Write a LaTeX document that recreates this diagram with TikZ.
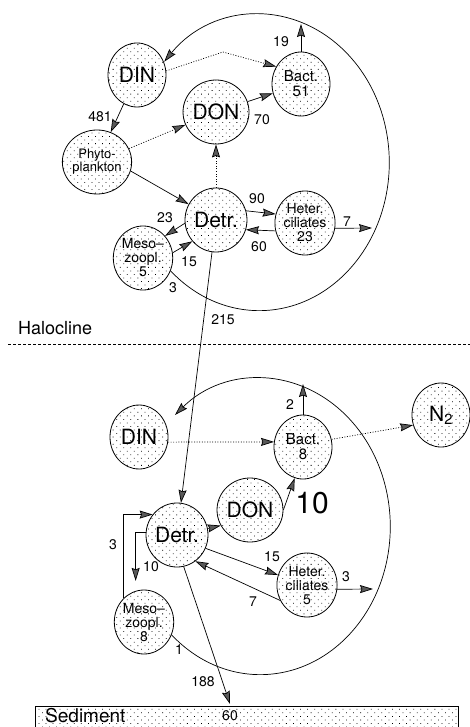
\documentclass[tikz,border=0pt]{standalone}
\usepackage{fontspec}
\setmainfont{TeX Gyre Heros}
\usepackage{tikz}
\usetikzlibrary{arrows.meta,patterns.meta,shapes.geometric}
\newcommand{\fs}[1]{\fontsize{#1}{#1}\selectfont}
\tikzset{
  pool/.style={ellipse, draw, line width=0.8pt, minimum width=58pt, minimum height=64pt,
    inner sep=0pt, align=center, font=\fs{14},
    pattern={Dots[distance=5pt, angle=45, radius=0.55pt]}},
  flow/.style={draw, line width=0.7pt,
    -{Stealth[length=13pt, width=8pt, inset=1.5pt, fill=black!65]}},
  dotflow/.style={flow, dash pattern=on 1pt off 1.6pt},
  num/.style={font=\fs{14}, inner sep=0pt},
}
\begin{document}
\begin{tikzpicture}[x=1pt,y=-1pt]
\useasboundingbox (0,0) rectangle (470,727);
 \node[pool, font=\fs{21}] (din1) at (137,75) {DIN};
 \node[pool, font=\fs{15}] (bact1) at (301,84) {Bact.\\51};
 \node[pool, font=\fs{21}] (don1) at (216,112) {DON};
 \node[pool, font=\fs{13}] (phyto) at (97,162) {Phyto-\\plankton};
 \node[pool, font=\fs{21}] (detr1) at (216,220) {Detr.};
 \node[pool] (het1) at (305,223) {Heter.\\ciliates\\23};
 \node[pool] (mz1) at (143,258) {Meso--\\zoopl.\\5};
 \coordinate (top19) at (301,24);
 \coordinate (out7) at (372,228);
 \coordinate (bend1) at (223,52);
  \draw[flow] (mz1.-25) arc[start angle=133, end angle=-137, x radius=130, y radius=148];
  \draw[dotflow] (din1.8) -- (bend1) -- (bact1.145);
  \draw[flow] (din1) -- (phyto);
  \draw[dotflow] (phyto) -- (don1);
  \draw[flow] (phyto.-15) -- (detr1.150);
  \draw[flow] (don1) -- (bact1);
  \draw[flow] (bact1.north) -- (top19);
  \draw[dotflow] (detr1) -- (don1);
  \draw[flow] (detr1.17) -- (het1.163);
  \draw[flow] (het1.195) -- (detr1.-18);
  \draw[flow] (het1.-10) -- (out7);
  \draw[flow] (detr1.186) -- (mz1.45);
  \draw[flow] (mz1.10) -- (detr1.222);
 \node[num] at (281,42) {19};
 \node[num] at (100,117) {481};
 \node[num] at (262,120) {70};
 \node[num] at (257,199) {90};
 \node[num] at (259,247) {60};
 \node[num] at (347,222) {7};
 \node[num] at (165,218) {23};
 \node[num] at (189,262) {15};
 \node[num] at (173,288) {3};
 \node[num] at (223,320) {215};
 \node[font=\fs{18}, anchor=west, inner sep=0pt] (halo) at (18,328) {Halocline};
 \coordinate (hl) at (8,344);
 \coordinate (hr) at (470,344);
  \draw[line width=0.7pt, dash pattern=on 3pt off 2pt] (hl) -- (hr);
 \node[pool, font=\fs{21}] (din2) at (139,437) {DIN};
 \node[pool, font=\fs{15}] (bact2) at (303,447) {Bact.\\8};
 \node[pool, font=\fs{21}] (ntwo) at (441,415) {N\textsubscript{2}};
 \node[pool, font=\fs{21}] (don2) at (250,510) {DON};
 \node[pool, font=\fs{21}] (detr2) at (177,535) {Detr.};
 \node[pool] (het2) at (307,585) {Heter.\\ciliates\\5};
 \node[pool] (mz2) at (144,622) {Meso--\\zoopl.\\8};
 \node[draw, line width=0.8pt, minimum width=423pt, minimum height=24pt, anchor=north west,
   pattern={Dots[distance=5pt, angle=45, radius=0.55pt]}] (sed) at (35,706) {};
 \coordinate (top2) at (303,384);
 \coordinate (out3) at (373,589);
 \coordinate (sedin) at (230,704);
  \draw[flow] (mz2.-25) arc[start angle=133, end angle=-131, x radius=130, y radius=148];
  \draw[flow] (detr1) -- (detr2);
  \draw[dotflow] (din2.-10) -- (bact2.170);
  \draw[dotflow] (bact2.15) -- (ntwo.200);
  \draw[flow] (bact2.north) -- (top2);
  \draw[flow] (don2.east) -- (bact2.-105);
  \draw[flow] (detr2.12) -- (don2.208);
  \draw[flow] (detr2.-25) -- (het2.161);
  \draw[flow] (het2.210) -- (detr2.-55);
  \draw[flow] (het2.-8) -- (out3);
  \draw[flow] (mz2.130) |- (detr2.140);
  \draw[flow, shorten >=10pt] (detr2.175) -| (mz2.105);
  \draw[flow] (detr2.-78) -- (sedin);
 \node[num] at (290,405) {2};
 \node[font=\fs{30}, inner sep=0pt] at (312,503) {10};
 \node[num] at (272,557) {15};
 \node[num] at (253,602) {7};
 \node[num] at (346,577) {3};
 \node[num] at (113,545) {3};
 \node[num] at (151,567) {10};
 \node[num] at (179,650) {1};
 \node[num] at (203,682) {188};
 \node[font=\fs{19}, anchor=west, inner sep=0pt] at (45,716) {Sediment};
 \node[num] at (230,716) {60};
\end{tikzpicture}
\end{document}
